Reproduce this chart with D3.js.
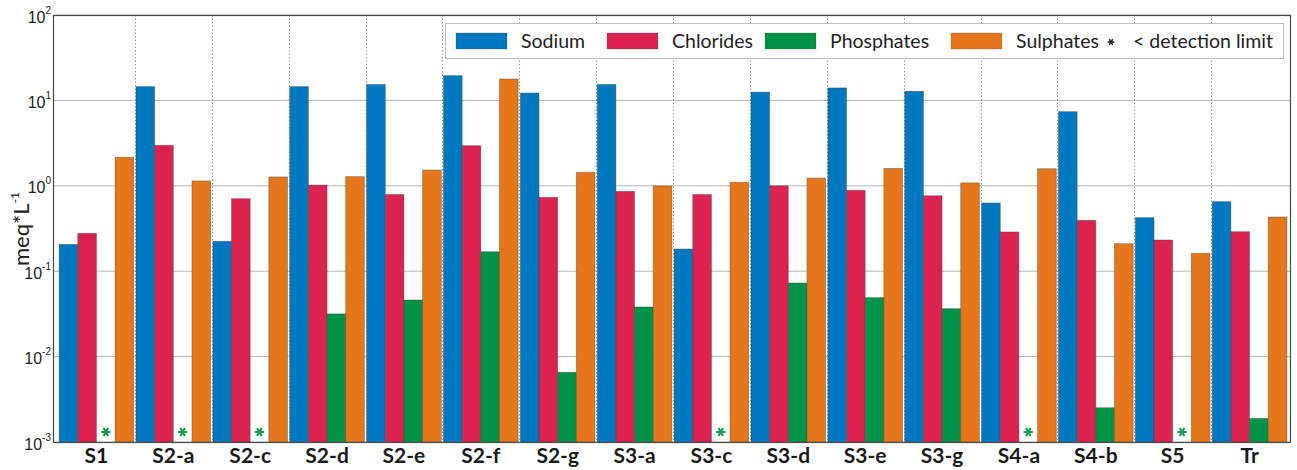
<!DOCTYPE html>
<html>
<head>
<meta charset="utf-8">
<script src="https://cdn.jsdelivr.net/npm/d3@7/dist/d3.min.js"></script>
<style>
  html, body { margin: 0; padding: 0; background: #fff; }
  svg { display: block; font-family: Lato, "Open Sans", sans-serif; }
</style>
</head>
<body>
<svg id="chart" width="1297" height="470"></svg>
<script>
// Sampling sites
const sites = ["S1", "S2-a", "S2-c", "S2-d", "S2-e", "S2-f", "S2-g", "S3-a",
               "S3-c", "S3-d", "S3-e", "S3-g", "S4-a", "S4-b", "S5", "Tr"];

// Ion concentrations, meq/L (null = below detection limit)
const sodium     = [0.206, 14.5, 0.224, 14.5, 15.4, 19.5, 12.2, 15.4, 0.182, 12.5, 14.0, 12.8, 0.63, 7.38, 0.424, 0.652];
const chlorides  = [0.278, 2.98, 0.706, 1.02, 0.79, 2.95, 0.733, 0.861, 0.79, 1.0, 0.885, 0.765, 0.288, 0.394, 0.232, 0.29];
const phosphates = [null, null, null, 0.0316, 0.046, 0.169, 0.00655, 0.0381, null, 0.0728, 0.049, 0.0364, null, 0.00252, null, 0.00189];
const sulphates  = [2.16, 1.14, 1.27, 1.28, 1.53, 17.8, 1.44, 0.995, 1.10, 1.23, 1.60, 1.08, 1.585, 0.21, 0.162, 0.431];

const seriesNames  = ["Sodium", "Chlorides", "Phosphates", "Sulphates"];
const seriesValues = [sodium, chlorides, phosphates, sulphates];
const seriesColors = ["#0078bf", "#db2350", "#009247", "#e5771a"];

const yTicks = [1e-3, 1e-2, 1e-1, 1e0, 1e1, 1e2];

const svg = d3.select("#chart");
const plot = { left: 53, right: 1291, top: 15, bottom: 442 };

const x = d3.scaleBand().domain(sites).range([58, 1288]).paddingInner(0).paddingOuter(0);
const xs = d3.scaleBand().domain(seriesNames).range([0, x.bandwidth()]).paddingInner(0).paddingOuter(0.06);
const y = d3.scaleLog().domain([1e-3, 1e2]).range([plot.bottom, plot.top]);

// Horizontal grid at each decade
svg.append("g")
  .selectAll("line")
  .data(yTicks)
  .join("line")
  .attr("x1", plot.left).attr("x2", plot.right)
  .attr("y1", d => y(d)).attr("y2", d => y(d))
  .attr("stroke", "#b4b4b4").attr("stroke-width", 1);

// Dotted separators between sites
svg.append("g")
  .selectAll("line")
  .data(sites.slice(1))
  .join("line")
  .attr("x1", d => Math.round(x(d)) + 0.5).attr("x2", d => Math.round(x(d)) + 0.5)
  .attr("y1", plot.top).attr("y2", plot.bottom)
  .attr("stroke", "#9a9a9a").attr("stroke-width", 1)
  .attr("stroke-dasharray", "1.5,2");

// Bars
const rows = [];
sites.forEach((s, i) => {
  seriesNames.forEach((n, j) => {
    rows.push({ site: s, series: n, value: seriesValues[j][i], color: seriesColors[j] });
  });
});

svg.append("g")
  .selectAll("rect")
  .data(rows.filter(d => d.value != null))
  .join("rect")
  .attr("x", d => x(d.site) + xs(d.series))
  .attr("width", xs.bandwidth())
  .attr("y", d => y(d.value))
  .attr("height", d => plot.bottom - y(d.value))
  .attr("fill", d => d.color)
  .attr("stroke", "rgba(60,60,60,0.45)")
  .attr("stroke-width", 0.8);

// Asterisks for values below detection limit
const asterisk = d3.symbol(d3.symbolAsterisk, 60);
svg.append("g")
  .selectAll("path")
  .data(rows.filter(d => d.value == null))
  .join("path")
  .attr("transform", d => `translate(${x(d.site) + xs(d.series) + xs.bandwidth() / 2},${plot.bottom - 10}) rotate(90)`)
  .attr("d", asterisk)
  .attr("fill", "none")
  .attr("stroke", "#12a150")
  .attr("stroke-width", 2.2);

// Plot frame
svg.append("rect")
  .attr("x", plot.left + 0.5).attr("y", plot.top + 0.5)
  .attr("width", plot.right - plot.left - 1).attr("height", plot.bottom - plot.top)
  .attr("fill", "none").attr("stroke", "#4a4a4a").attr("stroke-width", 1.2);

// Y axis with power-of-ten labels
const yAxis = d3.axisLeft(y).tickValues(yTicks).tickSize(0).tickPadding(0).tickFormat(() => "");
const yg = svg.append("g").attr("transform", `translate(${plot.left},0)`).call(yAxis);
yg.select(".domain").remove();
yg.selectAll(".tick text").remove();
yg.selectAll(".tick").each(function(d) {
  const t = d3.select(this).append("text")
    .attr("x", -2).attr("y", 7)
    .attr("text-anchor", "end")
    .attr("fill", "#222")
    .attr("font-size", 16);
  t.append("tspan").text("10");
  t.append("tspan").attr("font-size", 10).attr("dy", -9).text(Math.round(Math.log10(d)));
});

// X axis labels
const xAxis = d3.axisBottom(x).tickSize(0).tickPadding(0);
const xg = svg.append("g").attr("transform", `translate(0,${plot.bottom})`).call(xAxis);
xg.select(".domain").remove();
xg.selectAll(".tick text")
  .attr("y", 21).attr("dy", 0)
  .attr("fill", "#1a1a1a")
  .attr("font-size", 21)
  .attr("font-weight", "bold")
  .attr("font-family", "Lato, sans-serif");

// Y axis title
const yt = svg.append("text")
  .attr("transform", "translate(29,229) rotate(-90)")
  .attr("text-anchor", "middle")
  .attr("fill", "#222")
  .attr("font-size", 22);
yt.append("tspan").text("meq*L");
yt.append("tspan").attr("font-size", 12).attr("dy", -10).text("-1");

// Legend
const lg = svg.append("g");
lg.append("rect")
  .attr("x", 445.5).attr("y", 23.5).attr("width", 838).attr("height", 35)
  .attr("fill", "#fff").attr("stroke", "#bdbdbd").attr("stroke-width", 1);

const legendX = [456, 607, 765, 951];
seriesNames.forEach((n, j) => {
  lg.append("rect")
    .attr("x", legendX[j]).attr("y", 33).attr("width", 51).attr("height", 16)
    .attr("fill", seriesColors[j])
    .attr("stroke", "rgba(60,60,60,0.35)").attr("stroke-width", 0.6);
  lg.append("text")
    .attr("x", legendX[j] + 65).attr("y", 47.5)
    .attr("fill", "#222").attr("font-size", 19.5)
    .text(n);
});
lg.append("path")
  .attr("transform", "translate(1111,42) rotate(90)")
  .attr("d", d3.symbol(d3.symbolAsterisk, 30))
  .attr("fill", "none")
  .attr("stroke", "#222")
  .attr("stroke-width", 1.5);
lg.append("text")
  .attr("x", 1133).attr("y", 47.5)
  .attr("fill", "#222").attr("font-size", 19.5)
  .text("< detection limit");
</script>
</body>
</html>
